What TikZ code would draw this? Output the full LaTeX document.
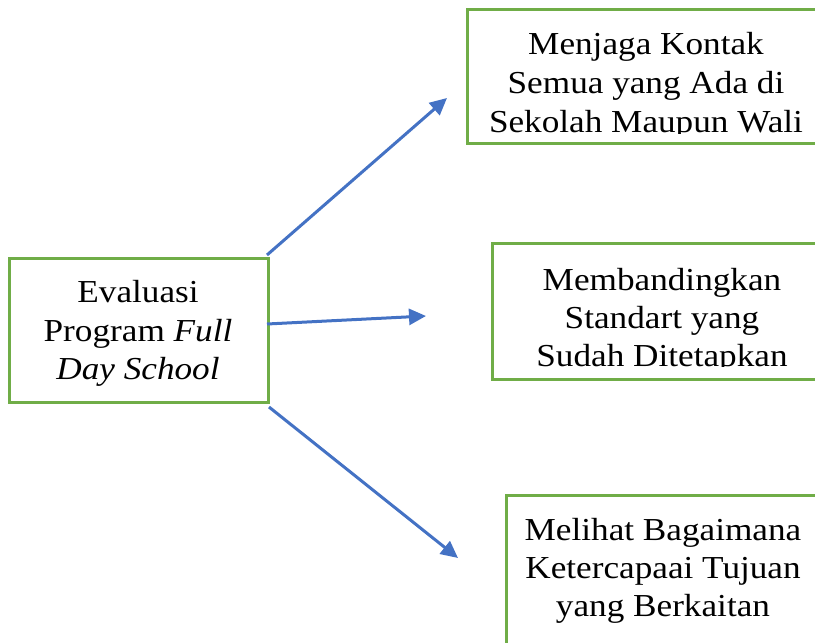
\documentclass[tikz,border=0pt]{standalone}
\usepackage{fontspec}
\setmainfont[FakeStretch=1.1]{Liberation Serif}
\usetikzlibrary{arrows.meta}
\definecolor{boxgreen}{HTML}{70AD47}
\definecolor{arrowblue}{HTML}{4472C4}
\begin{document}
\begin{tikzpicture}[x=1pt,y=-1pt,
  box/.style={draw=boxgreen,line width=3pt,inner sep=0pt,outer sep=0pt},
  txt/.style={font=\fontsize{32}{39}\selectfont,anchor=base,inner sep=0pt},
  arr/.style={draw=arrowblue,line width=3pt,-{Triangle[length=17pt,width=16pt]}}]
\useasboundingbox (0,0) rectangle (815,643);
\clip (0,0) rectangle (815,643);
% boxes
\node[box,minimum width=259pt,minimum height=144pt,anchor=north west] (main) at (9,258) {};
\node[box,minimum width=360pt,minimum height=134pt,anchor=north west] (b1) at (467,9) {};
\node[box,minimum width=340pt,minimum height=136pt,anchor=north west] (b2) at (492,243) {};
\node[box,minimum width=330pt,minimum height=170pt,anchor=north west] (b3) at (506,495) {};
% main text
\node[txt] (m1) at (138,302) {Evaluasi};
\node[txt] (m2) at (138,341) {Program \textit{Full}};
\node[txt] (m3) at (138,379) {\textit{Day School}};
% box 1 text
\begin{scope}
\clip (469,11) rectangle (815,133);
\node[txt] (t1) at (646,54) {Menjaga Kontak};
\node[txt] (t2) at (646,93) {Semua yang Ada di};
\node[txt] (t3) at (646,132.5) {Sekolah Maupun Wali};
\end{scope}
% box 2 text
\begin{scope}
\clip (494,245) rectangle (815,366.5);
\node[txt] (u1) at (662,290) {Membandingkan};
\node[txt] (u2) at (662,328) {Standart yang};
\node[txt] (u3) at (662,366) {Sudah Ditetapkan};
\end{scope}
% box 3 text
\node[txt] (v1) at (663,540) {Melihat Bagaimana};
\node[txt] (v2) at (663,578) {Ketercapaai Tujuan};
\node[txt] (v3) at (663,616) {yang Berkaitan};
% arrows
\coordinate (e1) at (447,98);
\coordinate (e2) at (426,316);
\coordinate (e3) at (458,558);
\draw[arr] ([xshift=-1pt,yshift=3pt]main.north east) -- (e1);
\draw[arr] ([xshift=-1pt,yshift=6pt]main.east) -- (e2);
\draw[arr] ([xshift=1pt,yshift=-5pt]main.south east) -- (e3);
\end{tikzpicture}
\end{document}
